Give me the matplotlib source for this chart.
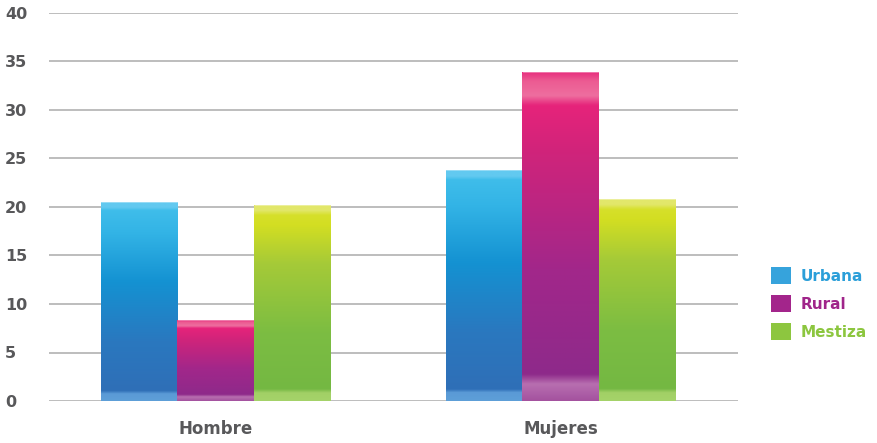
import numpy as np
import matplotlib
matplotlib.use("Agg")
import matplotlib.pyplot as plt
from matplotlib.colors import LinearSegmentedColormap
from matplotlib.patches import Patch

categories = ["Hombre", "Mujeres"]
series_names = ["Urbana", "Rural", "Mestiza"]
urbana = [20.5, 23.8]
rural = [8.3, 33.9]
mestiza = [20.2, 20.8]
y_ticks = [0, 5, 10, 15, 20, 25, 30, 35, 40]

series_values = [urbana, rural, mestiza]
legend_colors = ["#36a3dc", "#a3258b", "#8dc63f"]
text_colors = ["#2b9fd9", "#a0258a", "#8cc63f"]
FONT = "DejaVu Sans"

# vertical gradients (bottom -> top) for each series
gradients = [
    [(0.00, "#5e9fd8"), (0.035, "#5a9ad6"), (0.05, "#2f6fb7"), (0.30, "#2a78bf"),
     (0.60, "#1492d2"), (0.85, "#33b4e6"), (0.96, "#3fbdea"), (0.975, "#62c9f0"), (1.0, "#62c9f0")],
    [(0.00, "#a4529f"), (0.05, "#b86fb0"), (0.08, "#8e2a8a"), (0.40, "#a2278a"),
     (0.75, "#cf247b"), (0.90, "#e6237a"), (0.93, "#ee6e9f"), (0.975, "#ec5b92"), (1.0, "#e8317f")],
    [(0.00, "#a5d36a"), (0.04, "#a2d066"), (0.06, "#74b843"), (0.35, "#7cbd42"),
     (0.70, "#a5ca38"), (0.90, "#d3de22"), (0.95, "#d6e02a"), (0.975, "#e2e76a"), (1.0, "#e2e76a")],
]
cmaps = [LinearSegmentedColormap.from_list(f"g{i}", g) for i, g in enumerate(gradients)]

fig = plt.figure(figsize=(8.78, 4.43), dpi=100)
ax = fig.add_axes([49 / 878, 1 - 401 / 443, (738 - 49) / 878, (401 - 13) / 443])

x = np.arange(len(categories))
width = 0.222
offsets = [-width, 0, width]

grad = np.linspace(0, 1, 256).reshape(-1, 1)
for i, vals in enumerate(series_values):
    bars = ax.bar(x + offsets[i], vals, width=width, color="none", edgecolor="none", zorder=3)
    for b in bars:
        x0, w, h = b.get_x(), b.get_width(), b.get_height()
        im = ax.imshow(grad, cmap=cmaps[i], origin="lower", aspect="auto",
                       extent=[x0, x0 + w, 0, h], zorder=3, interpolation="bilinear")
        im.set_clip_path(b)
        ax.plot([x0 + 0.002, x0 + w - 0.002], [h, h], color="white", lw=0.6, alpha=0.4, zorder=4)

ax.set_xlim(-0.483, 1.515)
ax.set_ylim(0, 40)
ax.set_yticks(y_ticks)
ax.set_yticklabels([str(t) for t in y_ticks])
ax.set_xticks(x)
ax.set_xticklabels(categories)
ax.yaxis.grid(True, color="#ababab", lw=1.1, zorder=1)
ax.set_axisbelow(True)
for s in ax.spines.values():
    s.set_visible(False)

ax.tick_params(axis="y", length=0, pad=31.5, labelsize=11.5, labelcolor="#58585a")
ax.tick_params(axis="x", length=0, pad=14, labelsize=12, labelcolor="#58585a")
for lab in ax.get_yticklabels():
    lab.set_ha("left")
    lab.set_fontweight("bold")
    lab.set_fontfamily(FONT)
for lab in ax.get_xticklabels():
    lab.set_fontweight("bold")
    lab.set_fontfamily(FONT)

handles = [Patch(facecolor=c, edgecolor="none") for c in legend_colors]
leg = fig.legend(handles, series_names, loc="upper left",
                 bbox_to_anchor=(759 / 878, 1 - 255 / 443), frameon=False,
                 prop={"family": FONT, "weight": "bold", "size": 11},
                 handlelength=1.3, handleheight=1.3, handletextpad=0.6,
                 labelspacing=0.75, borderpad=0.3)
for t, c in zip(leg.get_texts(), text_colors):
    t.set_color(c)

fig.savefig("out.png", dpi=100)
